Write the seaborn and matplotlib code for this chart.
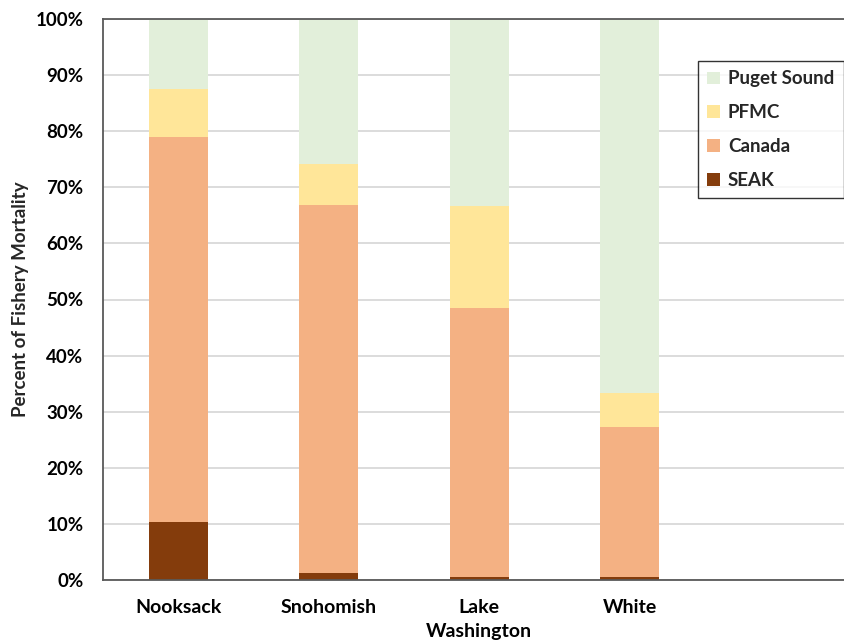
import matplotlib
matplotlib.use("Agg")
import matplotlib.pyplot as plt
import seaborn as sns
import pandas as pd
import numpy as np
from matplotlib.patches import Patch
from matplotlib.ticker import PercentFormatter

# Share of fishery mortality (%) by stock and fishery
stocks = ["Nooksack", "Snohomish", "Lake\nWashington", "White"]
seak = [10.3, 1.3, 0.6, 0.6]
canada = [68.6, 65.6, 47.9, 26.6]
pfmc = [8.6, 7.3, 18.2, 6.1]
puget_sound = [12.5, 25.8, 33.3, 66.7]

series_names = ["SEAK", "Canada", "PFMC", "Puget Sound"]
series_values = [seak, canada, pfmc, puget_sound]
colors = {"SEAK": "#843C0C", "Canada": "#F4B183", "PFMC": "#FFE699", "Puget Sound": "#E2EFDA"}

sns.set_theme(style="white")
plt.rcParams["font.family"] = ["Lato", "DejaVu Sans"]

fig = plt.figure(figsize=(8.45, 6.42), dpi=100)
ax = fig.add_axes([103 / 845, 1 - 580 / 642, 1 - 103 / 845, (580 - 19) / 642])

# stacked bars: draw cumulative totals from the top segment down
cum = np.cumsum(np.array(series_values), axis=0)
for i in range(len(series_names) - 1, -1, -1):
    name = series_names[i]
    df = pd.DataFrame({"stock": stocks, "value": cum[i]})
    sns.barplot(data=df, x="stock", y="value", order=stocks, color=colors[name],
                width=0.39, saturation=1, ax=ax, zorder=2, linewidth=0)

ax.set_xlim(-0.5, 4.43)
ax.set_ylim(0, 100)
ax.set_yticks(np.arange(0, 101, 10))
ax.yaxis.set_major_formatter(PercentFormatter(decimals=0))
ax.grid(axis="y", color="#D9D9D9", linewidth=1.3, zorder=0)
ax.set_axisbelow(True)

for side in ["left", "bottom", "top"]:
    ax.spines[side].set_visible(True)
    ax.spines[side].set_color("#595959")
    ax.spines[side].set_linewidth(1.3)
ax.spines["right"].set_visible(False)

ax.tick_params(axis="y", length=0, pad=14, labelsize=13.5, colors="#000000")
ax.tick_params(axis="x", length=0, pad=14, labelsize=14, colors="#000000")
for lbl in ax.get_yticklabels() + ax.get_xticklabels():
    lbl.set_fontweight("bold")
for lbl in ax.get_xticklabels():
    lbl.set_linespacing(1.45)
ax.set_xlabel("")
ax.set_ylabel("Percent of Fishery Mortality", fontsize=13.5, fontweight="bold", labelpad=5)

handles = [Patch(facecolor=colors[n], edgecolor="none", label=n) for n in reversed(series_names)]
leg = ax.legend(handles=handles, loc="upper left", bbox_to_anchor=(698 / 845, 1 - 61 / 642),
                bbox_transform=fig.transFigure, frameon=True, fancybox=False,
                edgecolor="#000000", handlelength=0.65, handleheight=0.65, handletextpad=0.45,
                labelspacing=0.9, borderpad=0.5, borderaxespad=0,
                prop={"weight": "bold", "size": 13.5})
leg.get_frame().set_linewidth(1.0)

fig.savefig("out.png", dpi=100)
